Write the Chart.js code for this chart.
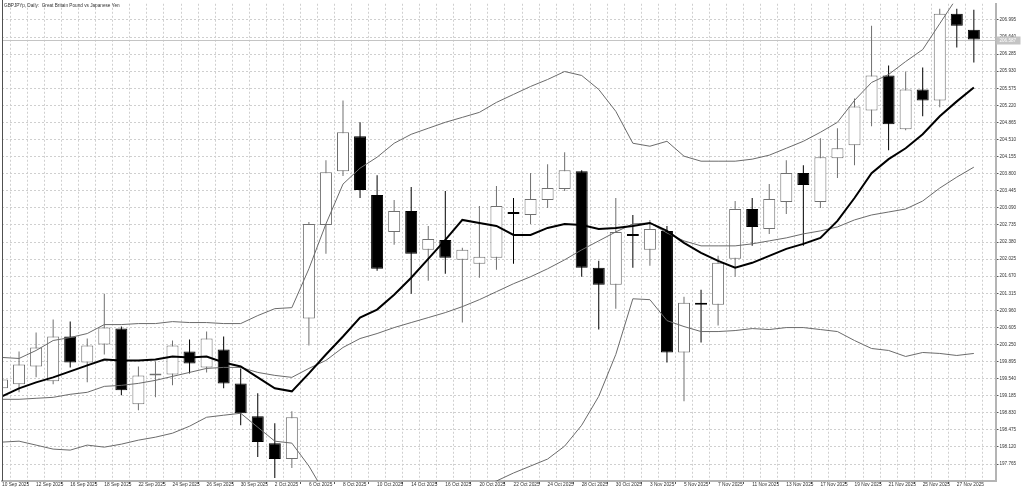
<!DOCTYPE html>
<html><head><meta charset="utf-8">
<script src="https://cdn.jsdelivr.net/npm/chart.js@4.4.1/dist/chart.umd.min.js"></script>
<style>html,body{margin:0;padding:0;background:#fff;overflow:hidden}canvas{display:block}</style>
</head><body>
<canvas id="c" width="1024" height="492"></canvas>
<script>
const chartTitle = 'GBPJPYp, Daily:  Great Britain Pound vs Japanese Yen';

const dates = ['10 Sep 2025','11 Sep 2025','12 Sep 2025','15 Sep 2025','16 Sep 2025','17 Sep 2025','18 Sep 2025','19 Sep 2025','22 Sep 2025','23 Sep 2025',
'24 Sep 2025','25 Sep 2025','26 Sep 2025','29 Sep 2025','30 Sep 2025','1 Oct 2025','2 Oct 2025','3 Oct 2025','6 Oct 2025','7 Oct 2025',
'8 Oct 2025','9 Oct 2025','10 Oct 2025','13 Oct 2025','14 Oct 2025','15 Oct 2025','16 Oct 2025','17 Oct 2025','20 Oct 2025','21 Oct 2025',
'22 Oct 2025','23 Oct 2025','24 Oct 2025','27 Oct 2025','28 Oct 2025','29 Oct 2025','30 Oct 2025','31 Oct 2025','3 Nov 2025','4 Nov 2025',
'5 Nov 2025','6 Nov 2025','7 Nov 2025','10 Nov 2025','11 Nov 2025','12 Nov 2025','13 Nov 2025','14 Nov 2025','17 Nov 2025','18 Nov 2025',
'19 Nov 2025','20 Nov 2025','21 Nov 2025','24 Nov 2025','25 Nov 2025','26 Nov 2025','27 Nov 2025','28 Nov 2025'];

const opens = [199.339,199.422,199.794,199.484,200.416,199.877,200.250,200.581,199.008,199.605,
199.629,200.105,199.774,200.146,199.442,198.759,198.200,197.869,200.788,202.735,
203.853,204.578,203.356,202.590,203.025,202.217,202.424,202.010,201.927,202.052,
203.004,202.942,203.253,203.480,203.853,201.845,201.492,202.549,202.217,202.611,
200.084,201.120,201.078,202.031,203.066,202.652,203.211,203.812,203.211,204.122,
204.392,205.116,205.841,204.723,205.551,205.323,207.125,206.794];

const highs = [199.567,200.105,200.498,200.768,200.726,200.374,201.306,200.623,199.794,199.898,
200.333,200.354,200.519,200.416,199.753,199.235,198.614,198.863,202.797,204.081,
205.323,204.868,203.770,203.253,203.522,202.714,203.439,202.259,203.128,203.543,
203.294,203.812,203.998,204.247,203.874,201.989,203.294,202.942,202.839,202.714,
201.244,201.389,202.093,203.232,203.294,203.584,204.081,203.977,204.537,204.744,
205.365,206.877,206.048,205.924,206.007,207.229,207.229,207.208];

const lows = [199.297,199.256,199.567,199.422,199.774,199.463,200.043,199.194,198.883,199.152,
199.401,199.649,199.670,199.339,198.573,197.910,197.475,197.682,200.229,202.134,
203.750,203.294,201.782,202.321,201.306,201.575,201.720,200.706,201.637,201.803,
201.927,202.756,203.087,203.439,201.658,200.561,200.995,201.845,201.886,199.877,
199.070,200.291,200.643,201.658,202.300,202.549,202.963,202.300,203.087,203.708,
203.977,204.785,204.288,204.702,204.992,205.179,206.421,206.110];

const closes = [199.525,199.836,200.188,200.416,199.877,200.229,200.602,199.297,199.608,199.612,
200.229,199.857,200.374,199.442,198.821,198.221,197.869,198.738,202.756,203.832,
204.661,203.460,201.824,203.025,202.134,202.445,202.052,202.217,202.072,203.128,
202.963,203.273,203.501,203.874,201.845,201.492,202.590,202.507,202.652,200.084,
201.120,201.078,201.948,203.066,202.694,203.273,203.812,203.563,204.143,204.329,
205.199,205.841,204.826,205.551,205.323,207.125,206.877,206.587];

const maLine = [199.173,199.339,199.463,199.567,199.691,199.815,199.939,199.919,199.919,199.939,
200.001,199.981,200.001,199.877,199.794,199.567,199.339,199.277,199.649,200.043,
200.416,200.809,200.975,201.285,201.637,202.031,202.424,202.839,202.776,202.714,
202.528,202.528,202.673,202.756,202.735,202.652,202.673,202.714,202.776,202.611,
202.362,202.155,201.989,201.845,201.948,202.093,202.238,202.342,202.466,202.818,
203.294,203.812,204.102,204.329,204.619,204.992,205.303,205.593];

const bbUpper = [199.981,199.960,200.126,200.333,200.395,200.478,200.664,200.664,200.685,200.685,
200.726,200.706,200.706,200.685,200.685,200.851,200.995,201.016,201.824,202.756,
203.584,203.915,204.143,204.433,204.619,204.744,204.868,204.971,205.075,205.282,
205.448,205.613,205.758,205.924,205.841,205.551,205.096,204.433,204.371,204.474,
204.164,204.060,204.060,204.060,204.102,204.185,204.329,204.474,204.661,204.868,
205.323,205.696,205.862,206.131,206.380,206.918,207.456,207.829];

const bbMiddle = [199.111,199.111,199.132,199.152,199.215,199.256,199.380,199.401,199.442,199.505,
199.587,199.670,199.753,199.774,199.774,199.670,199.608,199.567,199.753,199.919,
200.188,200.374,200.478,200.602,200.706,200.809,200.913,201.037,201.182,201.348,
201.513,201.658,201.824,202.010,202.217,202.404,202.590,202.756,202.776,202.569,
202.404,202.300,202.300,202.300,202.342,202.404,202.466,202.549,202.611,202.694,
202.839,202.942,203.004,203.066,203.232,203.501,203.729,203.936];

const bbLower = [198.221,198.241,198.159,198.076,198.055,198.159,198.117,198.179,198.262,198.324,
198.407,198.552,198.738,198.780,198.821,198.531,198.241,198.200,197.724,197.123,
196.792,196.833,196.812,196.771,196.792,196.875,196.957,197.102,197.289,197.413,
197.579,197.724,197.869,198.138,198.573,199.173,200.043,201.200,201.182,200.747,
200.623,200.519,200.519,200.540,200.581,200.561,200.602,200.602,200.561,200.519,
200.333,200.167,200.126,200.001,200.084,200.064,200.022,200.064];

const yTicks = [197.765,198.120,198.475,198.830,199.185,199.540,199.895,200.250,200.605,200.960,
201.315,201.670,202.025,202.380,202.735,203.090,203.445,203.800,204.155,204.510,
204.865,205.220,205.575,205.930,206.285,206.640,206.995];

const bidPrice = 206.587;

const BULL = '#707070', BEAR = '#000000';
const FONT = '"Liberation Sans", Arial, sans-serif';
const isBull = opens.map((o, i) => closes[i] >= o);
const wickData = dates.map((d, i) => ({x: i, y: [lows[i], highs[i]]}));
const bodyData = dates.map((d, i) => ({x: i, y: [opens[i], closes[i]]}));
const toXY = arr => arr.map((v, i) => ({x: i, y: v}));
const xTickIdx = dates.map((d, i) => i).concat([dates.length]);

const decorPlugin = {
  id: 'decor',
  beforeDatasetsDraw(chart) {
    const {ctx, chartArea: a, scales: {y}} = chart;
    const py = Math.round(y.getPixelForValue(bidPrice)) + 0.5;
    ctx.save();
    ctx.strokeStyle = '#c4c4c4'; ctx.lineWidth = 1;
    ctx.beginPath(); ctx.moveTo(a.left, py); ctx.lineTo(a.right, py); ctx.stroke();
    ctx.restore();
  },
  afterDraw(chart) {
    const {ctx, chartArea: a, scales: {y}} = chart;
    ctx.save();
    // left frame
    ctx.strokeStyle = '#505050'; ctx.lineWidth = 1;
    ctx.beginPath(); ctx.moveTo(a.left + 0.5, 0); ctx.lineTo(a.left + 0.5, a.bottom); ctx.stroke();
    // bid label
    const py = Math.round(y.getPixelForValue(bidPrice)) + 0.5;
    ctx.fillStyle = '#c4c4c4';
    ctx.fillRect(a.right + 1, py - 4, 24, 8);
    ctx.fillStyle = '#ffffff';
    ctx.font = '4.6px ' + FONT;
    ctx.textBaseline = 'middle'; ctx.textAlign = 'left';
    ctx.fillText(bidPrice.toFixed(3), a.right + 4, py);
    // title
    ctx.fillStyle = '#333333';
    ctx.font = '4.7px ' + FONT;
    ctx.fillText(chartTitle, a.left + 2, 5.5);
    ctx.restore();
  }
};

new Chart(document.getElementById('c'), {
  type: 'bar',
  data: {
    datasets: [
      {type: 'line', label: 'BB upper', data: toXY(bbUpper), borderColor: '#6b6b6b', borderWidth: 1, pointRadius: 0, tension: 0, clip: 0, order: 1},
      {type: 'line', label: 'BB middle', data: toXY(bbMiddle), borderColor: '#6b6b6b', borderWidth: 1, pointRadius: 0, tension: 0, clip: 0, order: 1},
      {type: 'line', label: 'BB lower', data: toXY(bbLower), borderColor: '#6b6b6b', borderWidth: 1, pointRadius: 0, tension: 0, clip: 0, order: 1},
      {type: 'line', label: 'MA', data: toXY(maLine), borderColor: '#000000', borderWidth: 2, pointRadius: 0, tension: 0, clip: 0, order: 0},
      {label: 'wick', data: wickData, backgroundColor: isBull.map(b => b ? BULL : BEAR), borderWidth: 0, barThickness: 1, grouped: false, inflateAmount: 0, order: 3},
      {label: 'body', data: bodyData, backgroundColor: isBull.map(b => b ? '#ffffff' : BEAR), borderColor: isBull.map(b => b ? BULL : BEAR),
       borderWidth: 1, borderSkipped: false, barThickness: 12, grouped: false, minBarLength: 2, inflateAmount: 0, order: 2}
    ]
  },
  options: {
    responsive: false,
    animation: false,
    devicePixelRatio: 1,
    layout: {padding: {left: 2, top: 2, right: 0, bottom: 0}},
    plugins: {legend: {display: false}, tooltip: {enabled: false}, title: {display: false}},
    scales: {
      x: {
        type: 'linear', min: 0, max: 58.27, bounds: 'data', offset: false,
        afterBuildTicks: s => { s.ticks = xTickIdx.map(v => ({value: v})); },
        afterFit: s => { s.height = 11; },
        grid: {color: '#cfcfcf', lineWidth: 1, drawTicks: true, tickLength: 3, tickWidth: 1, tickBorderDash: [],
               tickColor: c => (c.index % 2 === 0 && c.index < dates.length) ? '#555555' : 'rgba(0,0,0,0)'},
        border: {display: true, color: '#b4b4b4', width: 2, dash: [2, 2]},
        ticks: {autoSkip: false, maxRotation: 0, minRotation: 0, align: 'start', padding: -2, color: '#333333',
                font: {family: FONT, size: 4.8},
                callback: (v) => (v % 2 === 0 && dates[v]) ? dates[v] : ''}
      },
      y: {
        type: 'linear', position: 'right', min: 197.413, max: 207.332, bounds: 'data',
        afterBuildTicks: s => { s.ticks = yTicks.map(v => ({value: v})); },
        afterFit: s => { s.width = 28.5; },
        grid: {color: '#cfcfcf', lineWidth: 1, drawTicks: true, tickLength: 3, tickWidth: 1, tickColor: '#555555', tickBorderDash: []},
        border: {display: true, color: '#b4b4b4', width: 2, dash: [2, 2]},
        ticks: {padding: 1, color: '#333333', font: {family: FONT, size: 4.6}, callback: v => Number(v).toFixed(3)}
      }
    }
  },
  plugins: [decorPlugin]
});
</script>
</body></html>
